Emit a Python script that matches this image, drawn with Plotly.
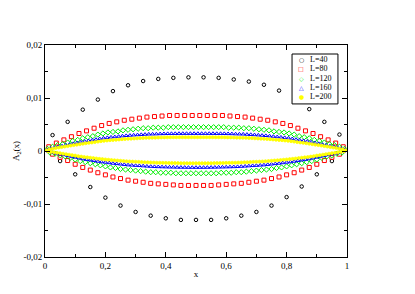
import plotly.graph_objects as go

SCALE = 1e-4  # all series values below are given in units of 1e-4

L_values = [40, 80, 120, 160, 200]
labels = ["L=40", "L=80", "L=120", "L=160", "L=200"]

# For every L the values sit at x = l/L; odd l -> upper branch, even l -> lower branch
L40_odd = [30, 55, 78, 97, 113, 124, 132, 136, 138, 139, 139, 138, 135, 131, 125, 114, 98, 79, 55, 31]
L40_even = [-19, -44, -68, -88, -103, -115, -122, -127, -130, -130, -130, -127, -122, -115, -103, -87, -67, -44, -19]

L80_odd = [8, 15, 21, 27, 33, 38, 43, 48, 52, 55, 58, 60, 62, 64, 65, 66, 67, 67, 67, 67,
           67, 67, 67, 67, 66, 65, 64, 62, 60, 58, 55, 52, 48, 43, 38, 33, 27, 21, 15, 8]
L80_even = [-6, -12, -18, -25, -31, -36, -41, -45, -49, -52, -55, -57, -59, -61, -62, -63, -64, -65, -65,
            -65,
            -65, -65, -64, -63, -62, -61, -59, -57, -55, -52, -49, -45, -41, -36, -31, -25, -18, -12, -6]

L120_odd = [4, 8, 11, 13, 16, 19, 21, 24, 26, 28, 31, 33, 35, 36, 37, 39, 40, 41, 42, 43,
            43, 44, 44, 44, 45, 45, 45, 45, 45, 45,
            45, 45, 45, 45, 45, 45, 44, 44, 44, 43,
            43, 42, 41, 40, 39, 37, 36, 35, 33, 31, 28, 26, 24, 21, 19, 16, 13, 11, 8, 4]
L120_even = [-3, -5, -8, -10, -13, -16, -19, -21, -23, -25, -27, -29, -31, -32, -34, -35, -36, -37, -38, -39,
             -40, -40, -41, -41, -41, -42, -42, -42, -42,
             -42,
             -42, -42, -42, -42, -41, -41, -41, -40, -40,
             -39, -38, -37, -36, -35, -34, -32, -31, -29, -27, -25, -23, -21, -19, -16, -13, -10, -8, -5, -3]

L160_odd = [2.5, 4.8, 6.4, 8.0, 9.5, 11.0, 12.5, 14.0, 15.4, 16.8,
            18.2, 19.4, 20.6, 21.8, 23.1, 24.3, 25.2, 26.1, 26.7, 27.5,
            28.3, 29.0, 29.5, 30.0, 30.5, 31.0, 31.4, 31.8, 31.9, 32.1,
            32.4, 32.6, 32.8, 32.9, 32.9, 33.0, 33.0, 33.0, 33.0, 33.0,
            33.0, 33.0, 33.0, 33.0, 33.0, 32.9, 32.9, 32.8, 32.6, 32.4,
            32.1, 31.9, 31.8, 31.4, 31.0, 30.5, 30.0, 29.5, 29.0, 28.3,
            27.5, 26.7, 26.1, 25.2, 24.3, 23.1, 21.8, 20.6, 19.4, 18.2,
            16.8, 15.4, 14.0, 12.5, 11.0, 9.5, 8.0, 6.4, 4.8, 2.5]
L160_even = [-1.4, -2.8, -4.2, -5.6, -7.1, -8.7, -10.2, -11.8, -13.3, -14.9,
             -16.0, -17.1, -18.3, -19.5, -20.5, -21.4, -22.3, -23.3, -24.0, -24.8,
             -25.6, -26.4, -26.8, -27.3, -27.7, -28.2, -28.7, -29.1, -29.5, -29.8,
             -30.0, -30.2, -30.4, -30.5, -30.7, -30.8, -30.9, -31.0, -31.0,
             -31.0,
             -31.0, -31.0, -30.9, -30.8, -30.7, -30.5, -30.4, -30.2, -30.0,
             -29.8, -29.5, -29.1, -28.7, -28.2, -27.7, -27.3, -26.8, -26.4, -25.6,
             -24.8, -24.0, -23.3, -22.3, -21.4, -20.5, -19.5, -18.3, -17.1, -16.0,
             -14.9, -13.3, -11.8, -10.2, -8.7, -7.1, -5.6, -4.2, -2.8, -1.4]

L200_odd = [1.6, 3.4, 4.4, 5.5, 6.4, 7.4, 8.3, 9.2, 10.2, 11.1,
            12.0, 12.9, 13.8, 14.6, 15.4, 16.1, 16.8, 17.7, 18.5, 19.2,
            19.8, 20.4, 20.8, 21.2, 21.7, 22.2, 22.7, 23.0, 23.3, 23.6,
            23.9, 24.3, 24.6, 24.9, 25.0, 25.1, 25.2, 25.4, 25.6, 25.7,
            25.8, 25.9, 25.9, 25.9, 26.0, 26.0, 26.0, 26.0, 26.0, 26.0,
            26.0, 26.0, 26.0, 26.0, 26.0, 26.0, 25.9, 25.9, 25.9, 25.8,
            25.7, 25.6, 25.4, 25.2, 25.1, 25.0, 24.9, 24.6, 24.3, 23.9,
            23.6, 23.3, 23.0, 22.7, 22.2, 21.7, 21.2, 20.8, 20.4, 19.8,
            19.2, 18.5, 17.7, 16.8, 16.1, 15.4, 14.6, 13.8, 12.9, 12.0,
            11.1, 10.2, 9.2, 8.3, 7.4, 6.4, 5.5, 4.4, 3.4, 1.6]
L200_even = [-0.8, -1.7, -2.5, -3.3, -4.1, -5.1, -6.0, -6.9, -7.8, -8.7,
             -9.7, -10.6, -11.4, -12.0, -12.7, -13.4, -14.1, -14.8, -15.3, -15.9,
             -16.4, -17.0, -17.5, -17.9, -18.4, -18.9, -19.3, -19.7, -20.0, -20.2,
             -20.5, -20.8, -21.1, -21.3, -21.6, -21.8, -22.0, -22.1, -22.3, -22.4,
             -22.5, -22.6, -22.7, -22.8, -22.9, -22.9, -23.0, -23.0, -23.0,
             -23.0,
             -23.0, -23.0, -23.0, -22.9, -22.9, -22.8, -22.7, -22.6, -22.5,
             -22.4, -22.3, -22.1, -22.0, -21.8, -21.6, -21.3, -21.1, -20.8, -20.5,
             -20.2, -20.0, -19.7, -19.3, -18.9, -18.4, -17.9, -17.5, -17.0, -16.4,
             -15.9, -15.3, -14.8, -14.1, -13.4, -12.7, -12.0, -11.4, -10.6, -9.7,
             -8.7, -7.8, -6.9, -6.0, -5.1, -4.1, -3.3, -2.5, -1.7, -0.8]

odd_series = [L40_odd, L80_odd, L120_odd, L160_odd, L200_odd]
even_series = [L40_even, L80_even, L120_even, L160_even, L200_even]

x_tick_vals = [0, 0.2, 0.4, 0.6, 0.8, 1]
x_tick_text = ["0", "0,2", "0,4", "0,6", "0,8", "1"]
x_minor_vals = [0.1, 0.3, 0.5, 0.7, 0.9]
y_tick_vals = [-0.02, -0.01, 0, 0.01, 0.02]
y_tick_text = ["-0,02", "-0,01", "0", "0,01", "0,02"]
y_minor_vals = [-0.015, -0.005, 0.005, 0.015]

colors = ["#000000", "#ff0000", "#00ee00", "#0000ff", "#ffff00"]
symbols = ["circle-open", "square-open", "diamond-open", "triangle-up-open", "circle"]
legend_glyphs = ["\u25CB", "\u25A1", "\u25C7", "\u25B3", "\u25CF"]
sizes = [3.5, 4, 4, 3.5, 3]
line_w = [1, 1, 1, 1, 0.8]

FONT = "Liberation Serif, Times New Roman, serif"

fig = go.Figure()
for L, lab, odd, even, c, s, sz, lw in zip(L_values, labels, odd_series, even_series, colors, symbols, sizes, line_w):
    xs = [(2 * k + 1) / L for k in range(len(odd))] + [(2 * k + 2) / L for k in range(len(even))]
    ys = [v * SCALE for v in odd] + [v * SCALE for v in even]
    fig.add_trace(go.Scatter(
        x=xs, y=ys, mode="markers", name=lab, showlegend=False,
        marker=dict(symbol=s, size=sz, color=c, line=dict(color=c, width=lw)),
    ))

# ---- compact boxed legend, opaque over the data ----
LEG_X0, LEG_X1, LEG_Y0, LEG_Y1 = 0.818, 0.970, 0.722, 0.9575
LEG_SYM_X, LEG_TXT_X = 0.848, 0.875
LEG_ROW_TOP, LEG_ROW_STEP = 0.931, 0.0440
fig.add_shape(type="rect", xref="paper", yref="paper", x0=LEG_X0, x1=LEG_X1, y0=LEG_Y0, y1=LEG_Y1,
              line=dict(color="black", width=1), fillcolor="white", layer="above")
for i, (lab, c, g) in enumerate(zip(labels, colors, legend_glyphs)):
    ry = LEG_ROW_TOP - i * LEG_ROW_STEP
    fig.add_annotation(x=LEG_SYM_X, y=ry, xref="paper", yref="paper", text=g, showarrow=False,
                       xanchor="center", yanchor="middle", borderpad=0,
                       font=dict(family="DejaVu Sans", size=6, color=c))
    fig.add_annotation(x=LEG_TXT_X, y=ry, xref="paper", yref="paper", text=lab, showarrow=False,
                       xanchor="left", yanchor="middle", borderpad=0,
                       font=dict(family=FONT, size=8, color="black"))

axis_common = dict(
    showline=True, linecolor="black", linewidth=1, mirror="allticks",
    ticks="inside", ticklen=5, tickwidth=1, tickcolor="black",
    showgrid=False, zeroline=False, automargin=False,
    tickfont=dict(family=FONT, size=9, color="black"),
    tickmode="array",
)

xaxis_cfg = dict(
    range=[0, 1], tickvals=x_tick_vals, ticktext=x_tick_text,
    minor=dict(tickmode="array", tickvals=x_minor_vals, ticks="inside", ticklen=3, tickcolor="black", showgrid=False),
    title=dict(text="x", font=dict(family=FONT, size=9, color="black"), standoff=0),
    **axis_common,
)
yaxis_cfg = dict(
    range=[-0.02, 0.02], tickvals=y_tick_vals, ticktext=y_tick_text,
    minor=dict(tickmode="array", tickvals=y_minor_vals, ticks="inside", ticklen=3, tickcolor="black", showgrid=False),
    title=dict(text="A<sub>2</sub>(x)", font=dict(family=FONT, size=9, color="black"), standoff=2),
    **axis_common,
)

# the page body adds an 8 px offset, so the figure is sized to fit the 415x294 window
fig.update_layout(
    width=407, height=286,
    margin=dict(l=37, r=68, t=37, b=37),
    paper_bgcolor="white", plot_bgcolor="white",
    showlegend=False,
    xaxis=xaxis_cfg,
    yaxis=yaxis_cfg,
)

fig.write_html("out.html")
